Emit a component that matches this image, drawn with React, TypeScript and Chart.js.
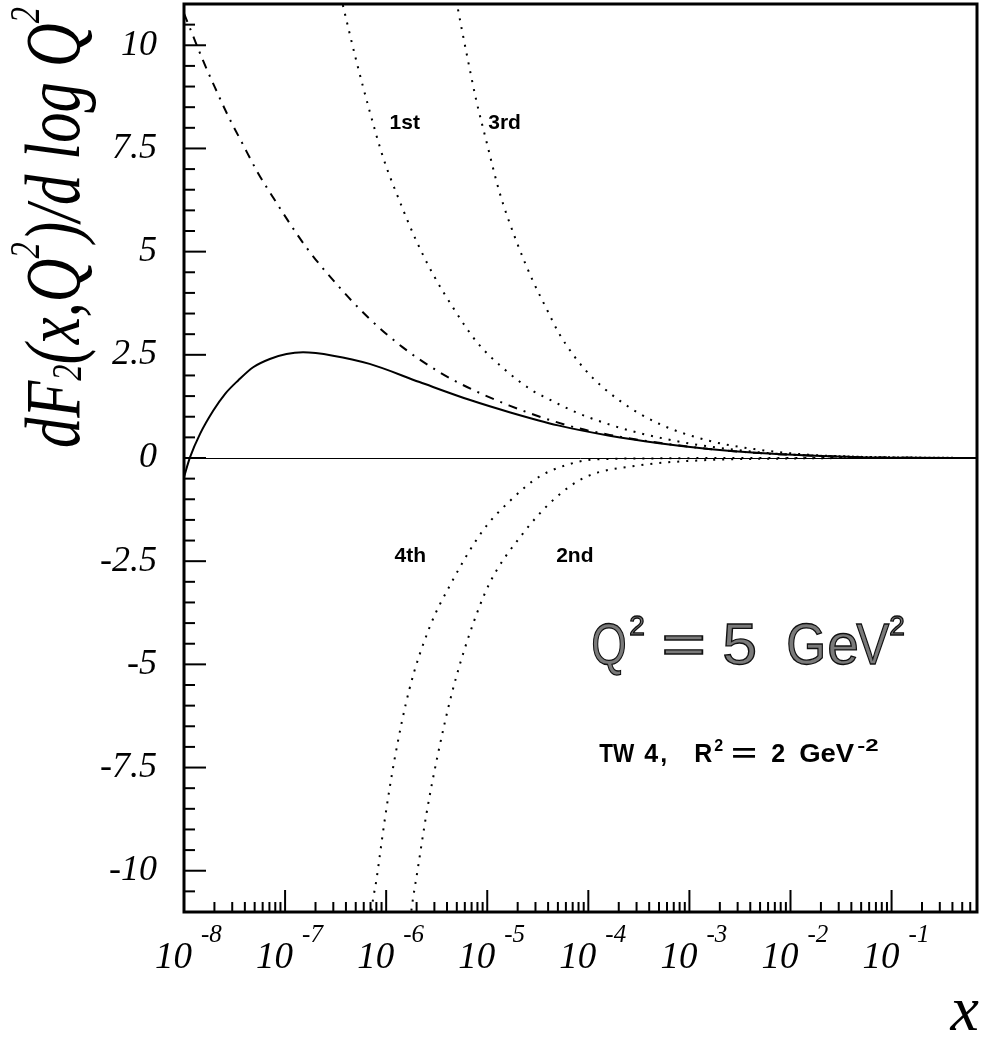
import React, { useEffect, useRef } from "react";
import { Chart, registerables } from "chart.js";

Chart.register(...registerables);

// ---- Data (x given as log10(x)) ----
const solidLogX = [-8.0, -7.94, -7.84, -7.71, -7.595, -7.464, -7.316, -7.151, -6.986, -6.822, -6.526, -6.164, -5.67, -5.177, -4.78, -4.3, -3.79, -3.3, -2.81, -2.31, -1.82, -1.33, -0.8, -0.155];
const solidY = [-0.46, 0.02, 0.59, 1.15, 1.55, 1.88, 2.2, 2.4, 2.52, 2.56, 2.48, 2.28, 1.84, 1.41, 1.11, 0.79, 0.54, 0.36, 0.22, 0.12, 0.06, 0.02, 0.005, 0];

const dashDotLogX = [-8.0, -7.924, -7.81, -7.687, -7.56, -7.42, -7.276, -7.118, -6.789, -6.493, -6.18, -5.835, -5.473, -5.2, -4.78, -4.22, -3.79, -3.3, -2.81, -2.31, -1.82, -1.33, -0.8, -0.155];
const dashDotY = [10.77, 10.31, 9.62, 8.94, 8.27, 7.61, 6.94, 6.31, 5.1, 4.22, 3.41, 2.68, 2.08, 1.72, 1.27, 0.8, 0.56, 0.37, 0.22, 0.12, 0.06, 0.02, 0.005, 0];

const firstLogX = [-6.47, -6.427, -6.295, -6.164, -6.03, -5.868, -5.703, -5.538, -5.34, -5.1, -4.83, -4.55, -4.41, -4.124, -3.79, -3.47, -2.97, -2.48, -1.98, -1.33, -0.8, -0.155];
const firstY = [11.4, 10.96, 9.62, 8.41, 7.28, 6.23, 5.27, 4.46, 3.65, 2.8, 2.15, 1.63, 1.45, 1.11, 0.81, 0.59, 0.34, 0.18, 0.08, 0.03, 0.01, 0];

const thirdLogX = [-5.32, -5.29, -5.21, -5.108, -5.01, -4.88, -4.716, -4.55, -4.4, -4.288, -4.025, -3.69, -3.3, -2.81, -2.31, -1.82, -1.33, -0.8, -0.155];
const thirdY = [11.3, 10.88, 9.87, 8.66, 7.69, 6.45, 5.28, 4.3, 3.55, 3.01, 2.12, 1.39, 0.83, 0.42, 0.2, 0.08, 0.03, 0.01, 0];

const fourthLogX = [-6.16, -6.144, -6.095, -6.016, -5.917, -5.77, -5.57, -5.37, -5.044, -4.78, -4.49, -4.19, -3.96, -3.4, -2.5, -0.155];
const fourthY = [-11.4, -10.95, -10.2, -8.8, -7.3, -5.6, -4.1, -3.09, -1.76, -1.05, -0.46, -0.15, -0.04, -0.01, 0, 0];

const secondLogX = [-5.77, -5.75, -5.69, -5.6, -5.49, -5.35, -5.18, -4.98, -4.65, -4.34, -4.025, -3.5, -2.91, -1.92, -1.0, -0.155];
const secondY = [-11.4, -10.95, -10.0, -8.6, -7.2, -5.7, -4.3, -3.05, -1.84, -1.0, -0.46, -0.18, -0.06, -0.01, 0, 0];

// ---- Axes ----
const xMin = 1e-8;
const xMax = 0.7;
const yMin = -11;
const yMax = 11;
const xDecades = [-8, -7, -6, -5, -4, -3, -2, -1];
const yTickValues = [10, 7.5, 5, 2.5, 0, -2.5, -5, -7.5, -10];
const yTickLabels = ["10", "7.5", "5", "2.5", "0", "-2.5", "-5", "-7.5", "-10"];

// curve labels anchored in data coords (log10 x, y)
const curveLabelText = ["1st", "3rd", "4th", "2nd"];
const curveLabelLogX = [-5.966, -4.99, -5.917, -4.318];
const curveLabelY = [7.98, 7.98, -2.53, -2.53];

const toPoints = (lx: number[], ys: number[]) =>
  lx.map((v, i) => ({ x: Math.pow(10, v), y: ys[i] }));

const SERIF = "'Liberation Serif', 'DejaVu Serif', serif";
const SANS = "'Liberation Sans', Arial, sans-serif";

function drawYTitle(ctx: CanvasRenderingContext2D) {
  const main = 78;
  const small = 42;
  const pieces = [
    { t: "dF", s: main, dy: 0 },
    { t: "2", s: small, dy: 2 },
    { t: "(x,Q", s: main, dy: 0 },
    { t: "2", s: small, dy: -40 },
    { t: ")/d log Q", s: main, dy: 0 },
    { t: "2", s: small, dy: -40 },
  ];
  let total = 0;
  const widths: number[] = [];
  for (const p of pieces) {
    ctx.font = `italic ${p.s}px ${SERIF}`;
    const w = ctx.measureText(p.t).width;
    widths.push(w);
    total += w;
  }
  const target = 441;
  const sx = target / total;
  ctx.save();
  ctx.translate(79, 448);
  ctx.rotate(-Math.PI / 2);
  ctx.scale(sx, 1);
  ctx.fillStyle = "#000";
  ctx.textAlign = "left";
  ctx.textBaseline = "alphabetic";
  let u = 0;
  pieces.forEach((p, i) => {
    ctx.font = `italic ${p.s}px ${SERIF}`;
    ctx.fillText(p.t, u, p.dy);
    u += widths[i];
  });
  ctx.restore();
}

function drawParts(ctx: CanvasRenderingContext2D, ax: number, ay: number, parts: any[], stroke: boolean) {
  for (const p of parts) {
    ctx.save();
    ctx.font = p.f;
    ctx.translate(ax + p.dx, ay + p.dy);
    ctx.scale(p.sx, 1);
    ctx.fillText(p.t, 0, 0);
    if (stroke) ctx.strokeText(p.t, 0, 0);
    ctx.restore();
  }
}

const overlayPlugin = {
  id: "overlay",
  afterDatasetsDraw(chart: any) {
    const { ctx, chartArea: a, scales } = chart;
    const xs = scales.x;
    const ys = scales.y;
    ctx.save();
    ctx.strokeStyle = "#000";
    ctx.fillStyle = "#000";

    // zero line
    const y0 = Math.round(ys.getPixelForValue(0)) + 0.5;
    ctx.lineWidth = 1;
    ctx.beginPath();
    ctx.moveTo(a.left, y0);
    ctx.lineTo(a.right, y0);
    ctx.stroke();

    // x ticks (inside, from bottom)
    ctx.lineWidth = 2;
    for (const k of xDecades) {
      for (let m = 1; m <= 9; m++) {
        const v = m * Math.pow(10, k);
        if (v > xMax) continue;
        const px = xs.getPixelForValue(v);
        const len = m === 1 ? 22 : 10;
        ctx.beginPath();
        ctx.moveTo(px, a.bottom);
        ctx.lineTo(px, a.bottom - len);
        ctx.stroke();
      }
    }
    // y ticks (inside, from left)
    for (let i = -21; i <= 21; i++) {
      const v = i * 0.5;
      const py = ys.getPixelForValue(v);
      const major = Math.abs((v / 2.5) - Math.round(v / 2.5)) < 1e-9;
      const len = major ? 22 : 11;
      ctx.beginPath();
      ctx.moveTo(a.left, py);
      ctx.lineTo(a.left + len, py);
      ctx.stroke();
    }

    // frame
    ctx.lineWidth = 3;
    ctx.strokeRect(a.left, a.top, a.right - a.left, a.bottom - a.top);

    // y tick labels
    ctx.font = `italic 36px ${SERIF}`;
    ctx.textAlign = "right";
    ctx.textBaseline = "middle";
    yTickValues.forEach((v, i) => {
      ctx.fillText(yTickLabels[i], 157, ys.getPixelForValue(v));
    });

    // x tick labels 10^k
    ctx.textAlign = "left";
    ctx.textBaseline = "alphabetic";
    for (const k of xDecades) {
      const p = xs.getPixelForValue(Math.pow(10, k));
      ctx.font = `italic 37px ${SERIF}`;
      ctx.fillText("10", p - 29, a.bottom + 56);
      ctx.font = `italic 25px ${SERIF}`;
      ctx.fillText(String(k), p + 17, a.bottom + 30);
    }

    // x axis title
    ctx.font = `italic 64px ${SERIF}`;
    ctx.textAlign = "right";
    ctx.fillText("x", a.right + 2, 1030);

    // y axis title
    drawYTitle(ctx);

    // curve labels
    ctx.font = `bold 21px ${SANS}`;
    ctx.textAlign = "left";
    curveLabelText.forEach((t, i) => {
      const px = xs.getPixelForValue(Math.pow(10, curveLabelLogX[i]));
      const py = ys.getPixelForValue(curveLabelY[i]);
      ctx.fillText(t, px, py);
    });

    // Q^2 = 5 GeV^2 (outlined style)
    {
      const ax = xs.getPixelForValue(Math.pow(10, -3.972));
      const ay = ys.getPixelForValue(-5.0);
      const big = `57px ${SANS}`;
      const sup = `28px ${SANS}`;
      const parts = [
        { t: "Q", dx: 0, f: big, dy: 0, sx: 0.8 },
        { t: "2", dx: 38, f: sup, dy: -29, sx: 1 },
        { t: "=", dx: 70, f: big, dy: 0, sx: 1.35 },
        { t: "5", dx: 131, f: big, dy: 0, sx: 1.1 },
        { t: "G", dx: 195, f: big, dy: 0, sx: 0.9 },
        { t: "e", dx: 236, f: big, dy: 0, sx: 1 },
        { t: "V", dx: 265, f: big, dy: 0, sx: 0.87 },
        { t: "2", dx: 298, f: sup, dy: -29, sx: 1 },
      ];
      ctx.lineWidth = 1.3;
      ctx.fillStyle = "#7a7a7a";
      ctx.strokeStyle = "#111";
      drawParts(ctx, ax, ay, parts, true);
    }

    // TW 4, R^2 = 2 GeV^-2
    {
      ctx.fillStyle = "#000";
      const ax = xs.getPixelForValue(Math.pow(10, -3.893));
      const ay = ys.getPixelForValue(-7.37);
      const f = `bold 25px ${SANS}`;
      const s = `bold 16px ${SANS}`;
      const parts = [
        { t: "TW", dx: 0, f, dy: 0, sx: 0.9 },
        { t: "4", dx: 45, f, dy: 0, sx: 1 },
        { t: ",", dx: 61, f, dy: 0, sx: 1 },
        { t: "R", dx: 95, f, dy: 0, sx: 1 },
        { t: "2", dx: 115, f: s, dy: -11, sx: 1 },
        { t: "=", dx: 132, f, dy: 0, sx: 1.75 },
        { t: "2", dx: 172, f, dy: 0, sx: 1 },
        { t: "GeV", dx: 200, f, dy: 0, sx: 1.1 },
        { t: "-2", dx: 258, f: s, dy: -11, sx: 1.5 },
      ];
      drawParts(ctx, ax, ay, parts, false);
    }

    ctx.restore();
  },
};

export default function App() {
  const ref = useRef<HTMLCanvasElement | null>(null);
  useEffect(() => {
    if (!ref.current) return;
    const common = {
      fill: false,
      pointRadius: 0,
      borderColor: "#000",
      cubicInterpolationMode: "monotone" as const,
    };
    const chart = new Chart(ref.current, {
      type: "line",
      data: {
        datasets: [
          { ...common, label: "full", data: toPoints(solidLogX, solidY), borderWidth: 2 },
          { ...common, label: "dashdot", data: toPoints(dashDotLogX, dashDotY), borderWidth: 2, borderDash: [9, 7, 2, 7] },
          { ...common, label: "1st", data: toPoints(firstLogX, firstY), borderWidth: 2, borderDash: [2, 7] },
          { ...common, label: "3rd", data: toPoints(thirdLogX, thirdY), borderWidth: 2, borderDash: [2, 7] },
          { ...common, label: "4th", data: toPoints(fourthLogX, fourthY), borderWidth: 2, borderDash: [2, 7] },
          { ...common, label: "2nd", data: toPoints(secondLogX, secondY), borderWidth: 2, borderDash: [2, 7] },
        ] as any,
      },
      options: {
        animation: false,
        responsive: false,
        maintainAspectRatio: false,
        layout: { padding: { left: 184, right: 7, top: 4, bottom: 126 } },
        plugins: { legend: { display: false }, tooltip: { enabled: false } },
        scales: {
          x: { type: "logarithmic", min: xMin, max: xMax, display: false },
          y: { type: "linear", min: yMin, max: yMax, display: false },
        },
      },
      plugins: [overlayPlugin],
    });
    return () => chart.destroy();
  }, []);
  return (
    <div style={{ position: "absolute", left: 0, top: 0, width: 984, height: 1038, background: "#fff" }}>
      <canvas ref={ref} width={984} height={1038} style={{ display: "block" }} />
    </div>
  );
}
